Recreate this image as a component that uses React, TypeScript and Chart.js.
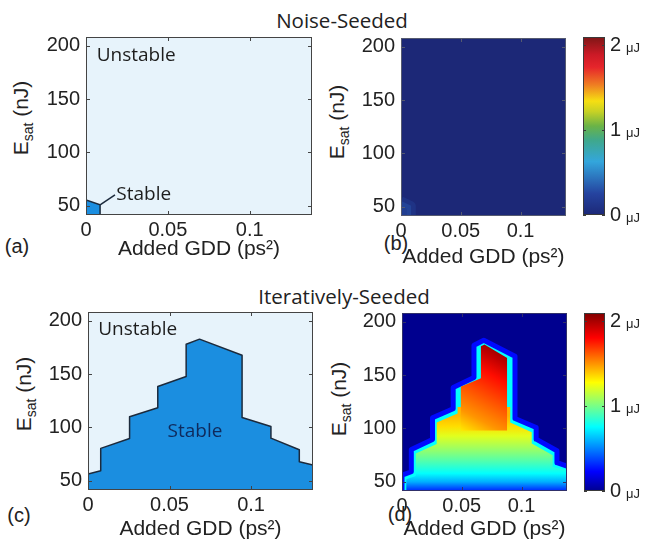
import React, { useEffect, useRef } from 'react';
import { Chart, registerables } from 'chart.js';

Chart.register(...registerables);

// ---------------- axis ticks & ranges ----------------
const gddTicks = [0, 0.05, 0.1];
const esatTicks = [50, 100, 150, 200];
const energyTicks = [0, 1, 2];
const gddMin = 0;
const gddMax = 0.138;
const esatMin = 41.5;
const esatMax = 208;
const energyMin = 0;
const energyMax = 2.1;

// ---------------- (a) noise-seeded stable region ----------------
const noiseStableGdd = [0, 0.0086, 0.0086];
const noiseStableEsat = [55.6, 51, 41.5];
const noiseLeaderGdd = [0.0086, 0.0177];
const noiseLeaderEsat = [51, 60.4];

// ---------------- (c) iteratively-seeded stable region ----------------
const iterStableGdd = [0, 0, 0.0078, 0.0078, 0.0255, 0.0255, 0.0428, 0.0428, 0.0602, 0.0602, 0.0684, 0.0945, 0.0945, 0.1122, 0.1122, 0.1296, 0.1296, 0.138];
const iterStableEsat = [41.5, 56.4, 59.5, 80.4, 89.7, 110, 118.4, 138.3, 147.7, 177.9, 182.6, 167.6, 109.3, 100.9, 90, 79.2, 68, 64.8];

// ---------------- (d) pulse energy map ----------------
const lowerGdd = [0.0035, 0.0035, 0.0115, 0.0115, 0.029, 0.029, 0.0465, 0.0465, 0.0905, 0.0905, 0.1085, 0.1085, 0.126, 0.126, 0.138];
const lowerEsat = [41.5, 52.5, 55.5, 76.5, 85.5, 105.5, 114, 120, 120, 105.5, 96.5, 86, 75, 64, 61];
const lowerLevelEsat = [41.5, 50, 58, 70, 82, 93, 102, 112];
const lowerLevelEnergy = [0.3, 0.59, 0.76, 0.93, 1.09, 1.22, 1.35, 1.43];
const peakGdd = [0.049, 0.049, 0.066, 0.066, 0.069, 0.088, 0.088];
const peakEsat = [98, 139, 147, 177, 178.5, 166, 98];
const peakBaseEsat = 98;
const peakRampGdd = [0.05, 0.086];
const peakRampEsat = [98, 172];
const peakRampPos = [0, 0.2, 0.45, 0.7, 0.88, 1];
const peakRampEnergy = [1.33, 1.5, 1.64, 1.78, 1.95, 2.05];
const haloEnergy = 0.76;
const haloEdgeEnergy = 0.25;
const noiseBlobEnergy = 0.3;

// ---------------- colour maps ----------------
const jetPos = [0, 0.11, 0.36, 0.61, 0.86, 1];
const jetCol = ['#00008f', '#0000ff', '#00ffff', '#ffff00', '#ff0000', '#800000'];
const mutedPos = [0, 0.12, 0.3, 0.42, 0.5, 0.58, 0.64, 0.73, 0.83, 0.9, 1];
const mutedCol = ['#1c2877', '#25439f', '#33a6dc', '#3fa88c', '#6ab347', '#c6d125', '#f6df12', '#ef7f22', '#e6252b', '#cc1a26', '#7e1616'];

const SANS = '"Liberation Sans", Arial, Helvetica, sans-serif';
const HUM = '"Open Sans", "Noto Sans", sans-serif';
const TXT = '#222222';
const LIGHT_BG = '#e7f3fb';
const STABLE_FILL = '#1b8ee0';
const EDGE = '#1c2a3c';

const hexRgb = (h: string) => [parseInt(h.slice(1, 3), 16), parseInt(h.slice(3, 5), 16), parseInt(h.slice(5, 7), 16)];
function colorAt(pos: number[], cols: string[], t: number, alpha = 1) {
  const tt = Math.max(0, Math.min(1, t));
  let i = 0;
  while (i < pos.length - 2 && tt > pos[i + 1]) i++;
  const f = (tt - pos[i]) / (pos[i + 1] - pos[i]);
  const a = hexRgb(cols[i]);
  const b = hexRgb(cols[i + 1]);
  const c = a.map((v, k) => Math.round(v + (b[k] - v) * f));
  return `rgba(${c[0]},${c[1]},${c[2]},${alpha})`;
}
const jet = (e: number, alpha = 1) => colorAt(jetPos, jetCol, e / energyMax, alpha);
const muted = (e: number, alpha = 1) => colorAt(mutedPos, mutedCol, e / energyMax, alpha);

const pts = (xs: number[], ys: number[]) => xs.map((x, i) => ({ x, y: ys[i] }));
const fmt = (v: any) => String(Math.round(Number(v) * 1000) / 1000);

// ---------------- plugins ----------------
const bgPlugin = (color: string) => ({
  id: 'plotBg',
  beforeDatasetsDraw(chart: any) {
    const { ctx, chartArea } = chart;
    ctx.save();
    ctx.fillStyle = color;
    ctx.fillRect(chartArea.left, chartArea.top, chartArea.right - chartArea.left, chartArea.bottom - chartArea.top);
    ctx.restore();
  },
});

const framePlugin = (color: string, withX: boolean, tickLen = 4) => ({
  id: 'frame',
  afterDatasetsDraw(chart: any) {
    const { ctx, chartArea } = chart;
    const { left, top, right, bottom } = chartArea;
    ctx.save();
    ctx.strokeStyle = color;
    ctx.lineWidth = 1;
    ctx.strokeRect(left + 0.5, top + 0.5, right - left - 1, bottom - top - 1);
    ctx.beginPath();
    if (withX) {
      const xs = chart.scales.x;
      xs.ticks.forEach((t: any) => {
        const px = Math.round(xs.getPixelForValue(t.value)) + 0.5;
        ctx.moveTo(px, bottom); ctx.lineTo(px, bottom - tickLen);
        ctx.moveTo(px, top); ctx.lineTo(px, top + tickLen);
      });
    }
    const ys = chart.scales.y;
    ys.ticks.forEach((t: any) => {
      const py = Math.round(ys.getPixelForValue(t.value)) + 0.5;
      ctx.moveTo(left, py); ctx.lineTo(left + tickLen, py);
      ctx.moveTo(right, py); ctx.lineTo(right - tickLen, py);
    });
    ctx.stroke();
    ctx.restore();
  },
});

type TextItem = { x: number; y: number; text: string; color: string };
const textPlugin = (items: TextItem[]) => ({
  id: 'texts',
  afterDatasetsDraw(chart: any) {
    const { ctx } = chart;
    const xs = chart.scales.x;
    const ys = chart.scales.y;
    ctx.save();
    ctx.font = `19px ${HUM}`;
    ctx.textBaseline = 'middle';
    items.forEach((it) => {
      ctx.fillStyle = it.color;
      ctx.textAlign = 'left';
      ctx.fillText(it.text, xs.getPixelForValue(it.x), ys.getPixelForValue(it.y));
    });
    ctx.restore();
  },
});

const CB_PAD = 5;
const unitPlugin = {
  id: 'unit',
  afterDraw(chart: any) {
    const { ctx } = chart;
    const s = chart.scales.y;
    ctx.save();
    s.ticks.forEach((t: any) => {
      const y = s.getPixelForValue(t.value);
      ctx.font = `20px ${SANS}`;
      const w = ctx.measureText(String(t.label)).width;
      ctx.font = `13px ${SANS}`;
      ctx.fillStyle = TXT;
      ctx.textAlign = 'left';
      ctx.textBaseline = 'alphabetic';
      ctx.fillText('μJ', s.left + CB_PAD + w + 5, y + 7);
    });
    ctx.restore();
  },
};

// ---------------- layout ----------------
type Rect = { l: number; t: number; r: number; b: number };
const PAD_L = 70;
const PAD_T = 20;
const PAD_R = 20;
const CB_AXIS_W = 50;
const rectA: Rect = { l: 86, t: 37, r: 312, b: 215 };
const rectB: Rect = { l: 401, t: 38, r: 566, b: 216 };
const rectC: Rect = { l: 88, t: 312, r: 313, b: 490 };
const rectD: Rect = { l: 402, t: 313, r: 567, b: 491 };
const rectCbB: Rect = { l: 583, t: 37, r: 605, b: 215 };
const rectCbD: Rect = { l: 584, t: 313, r: 605, b: 491 };
const titleHA = 47;
const titleHB = 54;
const titleHC = 52;
const titleHD = 51;

function panelScales(titleH: number) {
  const tickFont = { family: SANS, size: 20 };
  return {
    x: {
      type: 'linear',
      min: gddMin,
      max: gddMax,
      afterBuildTicks: (s: any) => { s.ticks = gddTicks.map((value) => ({ value })); },
      ticks: { padding: 3, font: tickFont, color: TXT, callback: fmt, maxRotation: 0, autoSkip: false },
      grid: { display: false, drawTicks: false },
      border: { display: false },
      title: { display: true, text: 'Added GDD (ps²)', font: { family: SANS, size: 21 }, color: TXT, padding: 0 },
      afterFit: (s: any) => { s.height = titleH; },
    },
    y: {
      type: 'linear',
      min: esatMin,
      max: esatMax,
      afterBuildTicks: (s: any) => { s.ticks = esatTicks.map((value) => ({ value })); },
      ticks: { padding: 6, font: tickFont, color: TXT, callback: fmt },
      grid: { display: false, drawTicks: false },
      border: { display: false },
      afterFit: (s: any) => { s.width = PAD_L; },
    },
  };
}

function panelConfig(datasets: any[], titleH: number, plugins: any[]) {
  return {
    type: 'line',
    data: { datasets },
    options: {
      animation: false,
      responsive: false,
      events: [],
      layout: { padding: { left: 0, top: PAD_T, right: PAD_R, bottom: 0 } },
      plugins: { legend: { display: false }, tooltip: { enabled: false } },
      elements: { point: { radius: 0 }, line: { tension: 0 } },
      scales: panelScales(titleH),
    },
    plugins,
  };
}

// colour bar: a filled band spanning the full energy range
const colorbarSpanX = [0, 1];
function colorbarConfig(pos: number[], cols: string[]) {
  return {
    type: 'line',
    data: {
      datasets: [{
        data: colorbarSpanX.map((x) => ({ x, y: energyMax })),
        fill: 'start',
        borderWidth: 0,
        borderColor: 'transparent',
        pointRadius: 0,
        backgroundColor: (c: any) => {
          const chart = c.chart;
          if (!chart.chartArea) return 'transparent';
          const ys = chart.scales.y;
          const y0 = ys.getPixelForValue(energyMin);
          const y1 = ys.getPixelForValue(energyMax);
          const g = chart.ctx.createLinearGradient(0, y0, 0, y1);
          pos.forEach((p, i) => g.addColorStop(p, cols[i]));
          return g;
        },
      }],
    },
    options: {
      animation: false,
      responsive: false,
      events: [],
      layout: { padding: { left: 10, top: PAD_T, right: 0, bottom: PAD_T } },
      plugins: { legend: { display: false }, tooltip: { enabled: false } },
      scales: {
        x: { type: 'linear', display: false, min: 0, max: 1 },
        y: {
          position: 'right',
          min: energyMin,
          max: energyMax,
          afterBuildTicks: (s: any) => { s.ticks = energyTicks.map((value) => ({ value })); },
          ticks: { padding: CB_PAD, font: { family: SANS, size: 20 }, color: TXT, callback: fmt },
          grid: { display: false, drawTicks: false },
          border: { display: false },
          afterFit: (s: any) => { s.width = CB_AXIS_W; },
        },
      },
    },
    plugins: [framePlugin('#3a3a3a', false, 3), unitPlugin],
  };
}

// ---------------- chart configs ----------------
const configA = () => panelConfig([
  { data: pts(noiseLeaderGdd, noiseLeaderEsat), borderColor: EDGE, borderWidth: 1.5, fill: false, clip: 0 },
  { data: pts(noiseStableGdd, noiseStableEsat), borderColor: EDGE, borderWidth: 1.5, backgroundColor: STABLE_FILL, fill: 'start', clip: 0 },
], titleHA, [bgPlugin(LIGHT_BG), textPlugin([
  { x: 0.0065, y: 190.8, text: 'Unstable', color: '#1d1d1d' },
  { x: 0.0185, y: 60.4, text: 'Stable', color: '#1d1d1d' },
]), framePlugin('#444444', true)]);

const configC = () => panelConfig([
  { data: pts(iterStableGdd, iterStableEsat), borderColor: EDGE, borderWidth: 1.5, backgroundColor: STABLE_FILL, fill: 'start', clip: 0, borderJoinStyle: 'round' },
], titleHC, [bgPlugin(LIGHT_BG), textPlugin([
  { x: 0.0063, y: 191.1, text: 'Unstable', color: '#1d1d1d' },
  { x: 0.0488, y: 96.5, text: 'Stable', color: '#0f2a5c' },
]), framePlugin('#444444', true)]);

const configB = () => panelConfig([
  {
    data: pts(noiseStableGdd, noiseStableEsat),
    backgroundColor: muted(noiseBlobEnergy, 0.55),
    borderColor: muted(noiseBlobEnergy, 0.3),
    borderWidth: 9,
    borderJoinStyle: 'round',
    fill: 'start',
    clip: 0,
  },
], titleHB, [bgPlugin(muted(0)), framePlugin('#555a70', true)]);

const configD = () => panelConfig([
  {
    data: pts(peakGdd, peakEsat),
    borderWidth: 0,
    borderColor: 'transparent',
    fill: { value: peakBaseEsat },
    clip: 0,
    backgroundColor: (c: any) => {
      const chart = c.chart;
      if (!chart.chartArea) return 'transparent';
      const xs = chart.scales.x;
      const ys = chart.scales.y;
      const g = chart.ctx.createLinearGradient(
        xs.getPixelForValue(peakRampGdd[0]), ys.getPixelForValue(peakRampEsat[0]),
        xs.getPixelForValue(peakRampGdd[1]), ys.getPixelForValue(peakRampEsat[1]));
      peakRampPos.forEach((p, i) => g.addColorStop(p, jet(peakRampEnergy[i])));
      return g;
    },
  },
  {
    data: pts(lowerGdd, lowerEsat),
    borderWidth: 0,
    borderColor: 'transparent',
    fill: 'start',
    clip: 0,
    backgroundColor: (c: any) => {
      const chart = c.chart;
      if (!chart.chartArea) return 'transparent';
      const ys = chart.scales.y;
      const y0 = ys.getPixelForValue(lowerLevelEsat[0]);
      const y1 = ys.getPixelForValue(lowerLevelEsat[lowerLevelEsat.length - 1]);
      const g = chart.ctx.createLinearGradient(0, y0, 0, y1);
      lowerLevelEsat.forEach((lv, i) => {
        const p = (ys.getPixelForValue(lv) - y0) / (y1 - y0);
        g.addColorStop(Math.max(0, Math.min(1, p)), jet(lowerLevelEnergy[i]));
      });
      return g;
    },
  },
  {
    data: pts(iterStableGdd, iterStableEsat),
    borderWidth: 5,
    borderColor: jet(haloEdgeEnergy),
    borderJoinStyle: 'round',
    backgroundColor: jet(haloEnergy),
    fill: 'start',
    clip: 0,
  },
], titleHD, [bgPlugin(jet(0)), framePlugin('#30306a', true)]);

// ---------------- components ----------------
function ChartCanvas({ rect, extraB, build, isBar }: { rect: Rect; extraB: number; build: () => any; isBar?: boolean }) {
  const ref = useRef<HTMLCanvasElement | null>(null);
  const left = isBar ? rect.l - 10 : rect.l - PAD_L;
  const top = rect.t - PAD_T;
  const width = isBar ? rect.r - rect.l + 10 + CB_AXIS_W : rect.r - rect.l + PAD_L + PAD_R;
  const height = isBar ? rect.b - rect.t + 2 * PAD_T : rect.b - rect.t + PAD_T + extraB;
  useEffect(() => {
    const chart = new Chart(ref.current as HTMLCanvasElement, build());
    return () => chart.destroy();
  }, []);
  return (
    <canvas
      ref={ref}
      width={width}
      height={height}
      style={{ position: 'absolute', left, top, width, height, display: 'block' }}
    />
  );
}

function Txt({ x, y, children, size = 20, family = SANS, rotate = false }: any) {
  return (
    <div
      style={{
        position: 'absolute',
        left: x,
        top: y,
        transform: `translate(-50%, -50%)${rotate ? ' rotate(-90deg)' : ''}`,
        whiteSpace: 'nowrap',
        lineHeight: 1,
        fontSize: size,
        fontFamily: family,
        color: TXT,
      }}
    >
      {children}
    </div>
  );
}

const EsatLabel = ({ x, y }: { x: number; y: number }) => (
  <Txt x={x} y={y} size={21} rotate>
    E<span style={{ fontSize: 14, position: 'relative', top: 5 }}>sat</span> (nJ)
  </Txt>
);

export default function App() {
  return (
    <div style={{ position: 'absolute', left: 0, top: 0, width: 655, height: 544, overflow: 'hidden', background: '#ffffff' }}>
      <Txt x={342} y={20} size={20.5} family={HUM}>Noise-Seeded</Txt>
      <Txt x={344} y={296} size={20.5} family={HUM}>Iteratively-Seeded</Txt>

      <EsatLabel x={19.5} y={118} />
      <EsatLabel x={335.5} y={122} />
      <EsatLabel x={22.5} y={394} />
      <EsatLabel x={337.5} y={399} />

      <Txt x={17} y={246}>(a)</Txt>
      <Txt x={396} y={243}>(b)</Txt>
      <Txt x={19} y={515}>(c)</Txt>
      <Txt x={400} y={514}>(d)</Txt>

      <ChartCanvas rect={rectA} extraB={titleHA} build={configA} />
      <ChartCanvas rect={rectB} extraB={titleHB} build={configB} />
      <ChartCanvas rect={rectC} extraB={titleHC} build={configC} />
      <ChartCanvas rect={rectD} extraB={titleHD} build={configD} />
      <ChartCanvas rect={rectCbB} extraB={0} build={() => colorbarConfig(mutedPos, mutedCol)} isBar />
      <ChartCanvas rect={rectCbD} extraB={0} build={() => colorbarConfig(jetPos, jetCol)} isBar />
    </div>
  );
}
